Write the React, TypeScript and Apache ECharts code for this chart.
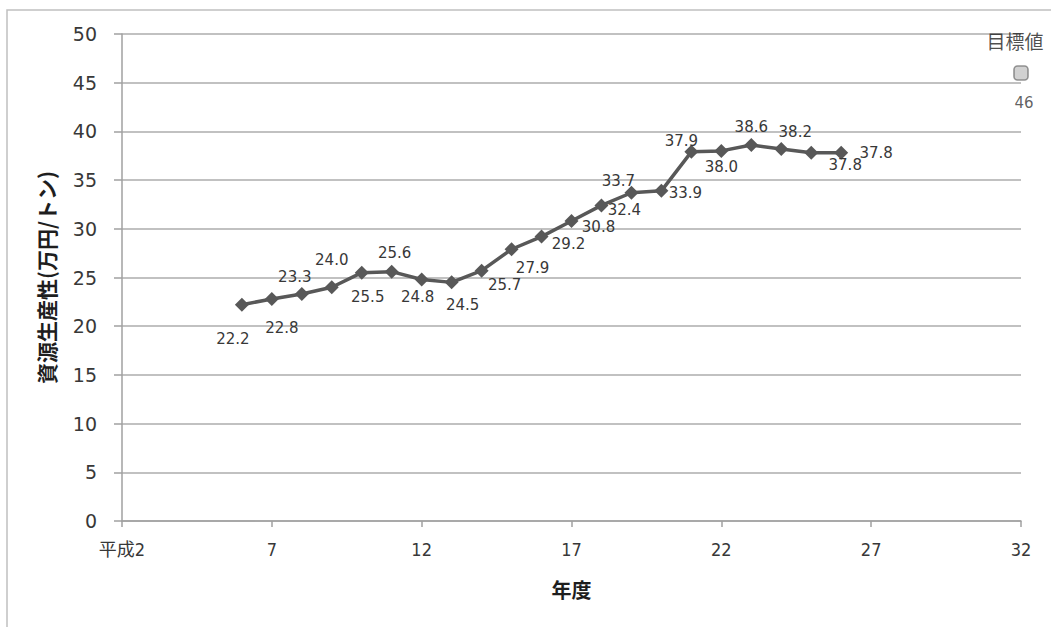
import React, { useEffect, useRef } from "react";
import * as echarts from "echarts";

// 年度 (平成) and 資源生産性 (万円/トン)
const years = [6, 7, 8, 9, 10, 11, 12, 13, 14, 15, 16, 17, 18, 19, 20, 21, 22, 23, 24, 25, 26];
const productivity = [
  22.2, 22.8, 23.3, 24.0, 25.5, 25.6, 24.8, 24.5, 25.7, 27.9, 29.2,
  30.8, 32.4, 33.7, 33.9, 37.9, 38.0, 38.6, 38.2, 37.8, 37.8,
];
const targetName = "目標値";
const targetYear = 32;
const targetValue = 46;

// x axis runs 平成2 … 32, ticks every 5 years
const firstYear = 2;
const lastYear = 32;
const yearStep = 5;
const firstYearLabel = "平成2";
const yAxisTitle = "資源生産性(万円/トン)";
const xAxisTitle = "年度";

// per-point label placement (px offsets from the marker)
const labelOffsets: [number, number][] = [
  [-9, 34], [10, 29], [-7, -17], [0, -27], [6, 24], [3, -19], [-4, 18],
  [11, 23], [23, 14], [21, 19], [27, 7], [27, 6], [23, 5], [-13, -12],
  [24, 2], [-10, -11], [0, 16], [0, -18], [14, -17], [34, 12], [35, 0],
];

const LINE = "#585858";
const TEXT = "#383838";
const TITLE = "#1e1e1e";
const GRID = "#adadad";
const AXIS = "#a0a0a0";

export default function App() {
  const ref = useRef<HTMLDivElement>(null);

  useEffect(() => {
    if (!ref.current) return;
    const chart = echarts.init(ref.current, undefined, { renderer: "svg" });

    const lineData = years.map((y, i) => ({
      value: [y - firstYear, productivity[i]],
      label: { offset: labelOffsets[i] },
    }));

    chart.setOption({
      animation: false,
      backgroundColor: "#ffffff",
      graphic: [
        {
          type: "rect",
          shape: { x: 7, y: 10, width: 1200, height: 800 },
          style: { fill: "none", stroke: "#c0c0c0", lineWidth: 1.5 },
          silent: true,
        },
      ],
      grid: { left: 122, right: 30, top: 34, bottom: 106 },
      xAxis: {
        type: "value",
        min: 0,
        max: lastYear - firstYear,
        interval: yearStep,
        splitLine: { show: false },
        axisLine: { show: true, lineStyle: { color: AXIS, width: 1.5 } },
        axisTick: { show: true, length: 6, lineStyle: { color: AXIS, width: 1.5 } },
        axisLabel: {
          margin: 19,
          color: TEXT,
          fontSize: 18,
          fontFamily: "'Liberation Sans Narrow', 'DejaVu Sans Condensed', 'Noto Sans CJK JP', sans-serif",
          formatter: (v: number) => (v === 0 ? firstYearLabel : String(v + firstYear)),
        },
        name: xAxisTitle,
        nameLocation: "middle",
        nameGap: 58,
        nameTextStyle: {
          color: TITLE,
          fontSize: 20,
          fontWeight: "bold",
          fontFamily: "'Noto Sans CJK JP', sans-serif",
        },
      },
      yAxis: {
        type: "value",
        min: 0,
        max: 50,
        interval: 5,
        splitLine: { show: true, lineStyle: { color: GRID, width: 1.6 } },
        axisLine: { show: true, lineStyle: { color: AXIS, width: 1.5 } },
        axisTick: { show: true, length: 8, lineStyle: { color: AXIS, width: 1.5 } },
        axisLabel: {
          margin: 25,
          color: TEXT,
          fontSize: 19,
          fontFamily: "'DejaVu Sans', sans-serif",
        },
        name: yAxisTitle,
        nameLocation: "middle",
        nameGap: 66,
        nameRotate: 90,
        nameTextStyle: {
          color: TITLE,
          fontSize: 21,
          fontWeight: "bold",
          fontFamily: "'Noto Sans CJK JP', sans-serif",
        },
      },
      series: [
        {
          type: "line",
          data: lineData,
          symbol: "diamond",
          symbolSize: 14,
          lineStyle: { color: LINE, width: 3.5 },
          itemStyle: { color: LINE },
          label: {
            show: true,
            position: "inside",
            color: TEXT,
            fontSize: 15,
            fontFamily: "'DejaVu Sans', sans-serif",
            formatter: (p: any) => p.value[1].toFixed(1),
          },
          z: 3,
        },
        {
          type: "scatter",
          name: targetName,
          data: [[targetYear - firstYear, targetValue]],
          symbol: "roundRect",
          symbolSize: 14,
          itemStyle: { color: "#c6c6c6", borderColor: "#7a7a7a", borderWidth: 1.6 },
          label: {
            show: true,
            position: "inside",
            offset: [3, 30],
            color: TEXT,
            fontSize: 15,
            fontFamily: "'DejaVu Sans', sans-serif",
            formatter: (p: any) => String(p.value[1]),
          },
          z: 3,
        },
        {
          type: "scatter",
          name: targetName,
          data: [[targetYear - firstYear, targetValue]],
          symbolSize: 0,
          label: {
            show: true,
            position: "inside",
            offset: [-6, -32],
            color: TITLE,
            fontSize: 19,
            fontFamily: "'Noto Sans CJK JP', sans-serif",
            formatter: (p: any) => p.seriesName,
          },
          z: 4,
        },
      ],
    });

    return () => chart.dispose();
  }, []);

  return (
    <div
      ref={ref}
      style={{ position: "fixed", left: 0, top: 0, width: 1051, height: 627 }}
    />
  );
}
